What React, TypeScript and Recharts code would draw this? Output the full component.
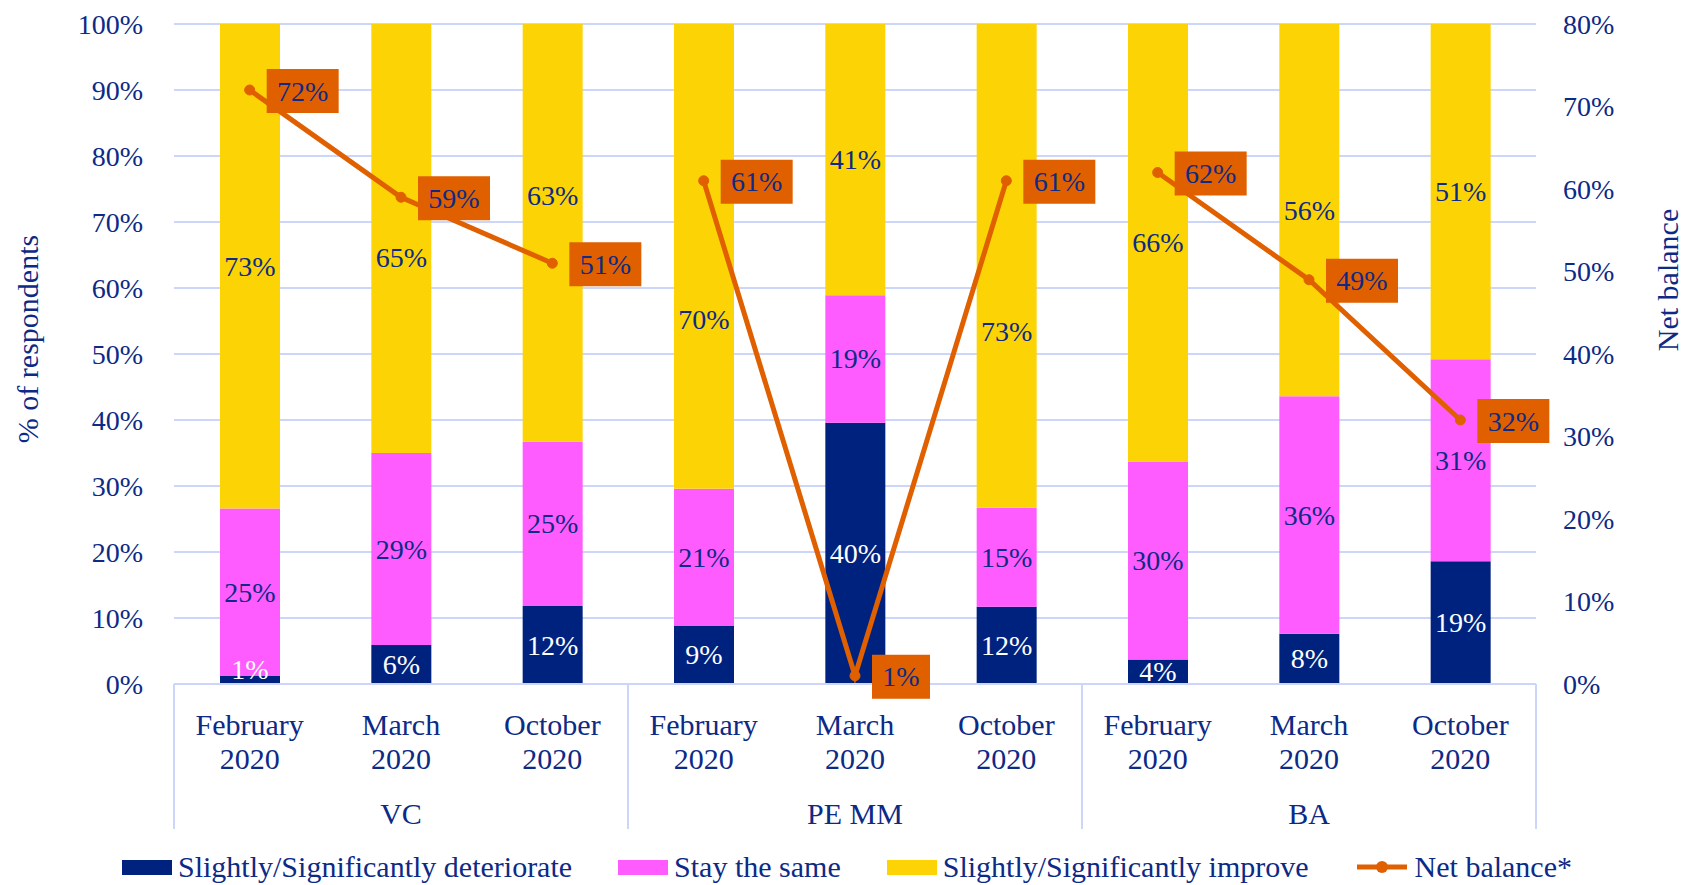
import React from 'react';
import { ComposedChart, Bar, Line, XAxis, YAxis, CartesianGrid, Legend, LabelList } from 'recharts';

const groups = ['VC', 'PE MM', 'BA'];
const months = ['February', 'March', 'October'];
const year = '2020';

// share of respondents, % (stacked to 100)
const deteriorate = [1.2, 5.9, 11.8, 8.8, 39.6, 11.7, 3.7, 7.6, 18.6];
const staySame = [25.4, 29.1, 24.9, 20.8, 19.3, 15.0, 30.0, 36.0, 30.6];
const improve = [73.4, 65.0, 63.3, 70.4, 41.1, 73.3, 66.3, 56.4, 50.8];
// net balance, % (right axis)
const netBalance = [72, 59, 51, 61, 1, 61, 62, 49, 32];

const leftTicks = [0, 10, 20, 30, 40, 50, 60, 70, 80, 90, 100];
const rightTicks = [0, 10, 20, 30, 40, 50, 60, 70, 80];

const W = 1684;
const H = 885;
const LEFT_W = 174;
const RIGHT_W = 148;
const PLOT_W = W - LEFT_W - RIGHT_W;

const NAVY = '#00227f';
const PINK = '#ff5cff';
const YELLOW = '#fcd405';
const ORANGE = '#e06000';
const TEXT = '#0c2a86';
const GRID = '#cbd6fa';
const FONT = '"Liberation Serif", "Times New Roman", serif';

// some "improve" labels were nudged off the line in the original (px)
const improveLabelNudge: Record<number, number> = { 1: 19, 2: -37, 3: 63, 5: 66 };

const data = netBalance.map((nb, i) => {
  const g = Math.floor(i / 3);
  return {
    key: `${groups[g]}-${months[i % 3]}`,
    deteriorate: deteriorate[i],
    same: staySame[i],
    improve: improve[i],
    net0: g === 0 ? nb : null,
    net1: g === 1 ? nb : null,
    net2: g === 2 ? nb : null,
  };
});

const legendItems = [
  { name: 'Slightly/Significantly deteriorate', color: NAVY, type: 'rect' },
  { name: 'Stay the same', color: PINK, type: 'rect' },
  { name: 'Slightly/Significantly improve', color: YELLOW, type: 'rect' },
  { name: 'Net balance*', color: ORANGE, type: 'line' },
];

const CategoryTick = (props: any) => {
  const { x, y, index } = props;
  const band = PLOT_W / 9;
  const txt = { fill: TEXT, fontSize: 30, fontFamily: FONT, textAnchor: 'middle' as const, dominantBaseline: 'central' as const };
  return (
    <g>
      <text x={x} y={y + 40} {...txt}>{months[index % 3]}</text>
      <text x={x} y={y + 74} {...txt}>{year}</text>
      {index % 3 === 1 && <text x={x} y={y + 129} {...txt}>{groups[(index - 1) / 3]}</text>}
      {index % 3 === 0 && (
        <line x1={x - band / 2} x2={x - band / 2} y1={y} y2={y + 145} stroke={GRID} strokeWidth={2} />
      )}
      {index === 8 && (
        <line x1={x + band / 2} x2={x + band / 2} y1={y} y2={y + 145} stroke={GRID} strokeWidth={2} />
      )}
    </g>
  );
};

const segmentLabel = (color: string, nudge: Record<number, number> = {}) => (props: any) => {
  const { x, y, width, height, value, index } = props;
  const h = Number(height);
  const cy = (h < 20 ? y + h - 15 : y + h / 2) + (nudge[index] || 0);
  return (
    <text x={x + width / 2} y={cy} fill={color} textAnchor="middle" dominantBaseline="central" fontSize={28} fontFamily={FONT}>
      {Math.round(value)}%
    </text>
  );
};

const NetLabel = (props: any) => {
  const { x, y, value } = props;
  if (value === null || value === undefined) return null;
  const w = String(value).length * 14 + 24 + 20;
  return (
    <g>
      <rect x={x + 17} y={y - 21} width={w} height={44} fill={ORANGE} />
      <text x={x + 17 + w / 2} y={y + 1} fill={TEXT} textAnchor="middle" dominantBaseline="central" fontSize={28} fontFamily={FONT}>
        {value}%
      </text>
    </g>
  );
};

const AxisTitle = (props: any) => {
  const { viewBox, text, dx, dy } = props;
  const cx = viewBox.x + dx;
  const cy = viewBox.y + viewBox.height / 2 + dy;
  return (
    <text x={cx} y={cy} transform={`rotate(-90 ${cx} ${cy})`} fill={TEXT} fontSize={30} fontFamily={FONT} textAnchor="middle" dominantBaseline="central">
      {text}
    </text>
  );
};

const renderLegend = () => (
  <div style={{ display: 'flex', justifyContent: 'center', alignItems: 'center', height: 36, paddingLeft: 10, fontFamily: FONT, fontSize: 30, color: TEXT }}>
    {legendItems.map((it, i) => (
      <div key={it.name} style={{ display: 'flex', alignItems: 'center', marginLeft: i === 0 ? 0 : 46 }}>
        {it.type === 'rect' ? (
          <div style={{ width: 50, height: 15, background: it.color, marginRight: 6 }} />
        ) : (
          <svg width={54} height={16} style={{ marginRight: 6 }}>
            <line x1={2} x2={52} y1={8} y2={8} stroke={it.color} strokeWidth={5} />
            <circle cx={27} cy={8} r={6} fill={it.color} />
          </svg>
        )}
        <span style={{ whiteSpace: 'nowrap' }}>{it.name}</span>
      </div>
    ))}
  </div>
);

export default function App() {
  return (
    <div style={{ width: W, height: H, background: '#fff' }}>
      <style>{'body{margin:0}'}</style>
      <ComposedChart width={W} height={H} data={data} margin={{ top: 24, right: 0, bottom: 0, left: 0 }}>
        <CartesianGrid yAxisId="left" vertical={false} stroke={GRID} strokeWidth={2} />
        <XAxis
          dataKey="key"
          interval={0}
          height={165}
          tickSize={0}
          tickMargin={0}
          tickLine={false}
          axisLine={{ stroke: GRID, strokeWidth: 2 }}
          tick={<CategoryTick />}
        />
        <YAxis
          yAxisId="left"
          width={LEFT_W}
          domain={[0, 100]}
          ticks={leftTicks}
          tickFormatter={(v) => `${v}%`}
          tickSize={0}
          tickMargin={31}
          tickLine={false}
          axisLine={false}
          tick={{ fill: TEXT, fontSize: 28, fontFamily: FONT }}
          label={<AxisTitle text="% of respondents" dx={27} dy={-15} />}
        />
        <YAxis
          yAxisId="right"
          orientation="right"
          width={RIGHT_W}
          domain={[0, 80]}
          ticks={rightTicks}
          tickFormatter={(v) => `${v}%`}
          tickSize={0}
          tickMargin={27}
          tickLine={false}
          axisLine={false}
          tick={{ fill: TEXT, fontSize: 28, fontFamily: FONT, textAnchor: 'start' }}
          label={<AxisTitle text="Net balance" dx={131} dy={-74} />}
        />
        <Bar yAxisId="left" dataKey="deteriorate" stackId="a" fill={NAVY} barSize={60} isAnimationActive={false}>
          <LabelList dataKey="deteriorate" content={segmentLabel('#ffffff')} />
        </Bar>
        <Bar yAxisId="left" dataKey="same" stackId="a" fill={PINK} barSize={60} isAnimationActive={false}>
          <LabelList dataKey="same" content={segmentLabel(TEXT)} />
        </Bar>
        <Bar yAxisId="left" dataKey="improve" stackId="a" fill={YELLOW} barSize={60} isAnimationActive={false}>
          <LabelList dataKey="improve" content={segmentLabel(TEXT, improveLabelNudge)} />
        </Bar>
        {['net0', 'net1', 'net2'].map((k) => (
          <Line
            key={k}
            yAxisId="right"
            dataKey={k}
            type="linear"
            stroke={ORANGE}
            strokeWidth={5}
            connectNulls={false}
            dot={{ r: 5, fill: ORANGE, stroke: ORANGE, strokeWidth: 1 }}
            isAnimationActive={false}
          >
            <LabelList dataKey={k} content={<NetLabel />} />
          </Line>
        ))}
        <Legend verticalAlign="bottom" content={renderLegend} wrapperStyle={{ left: 0, bottom: 0, width: W }} />
      </ComposedChart>
    </div>
  );
}
